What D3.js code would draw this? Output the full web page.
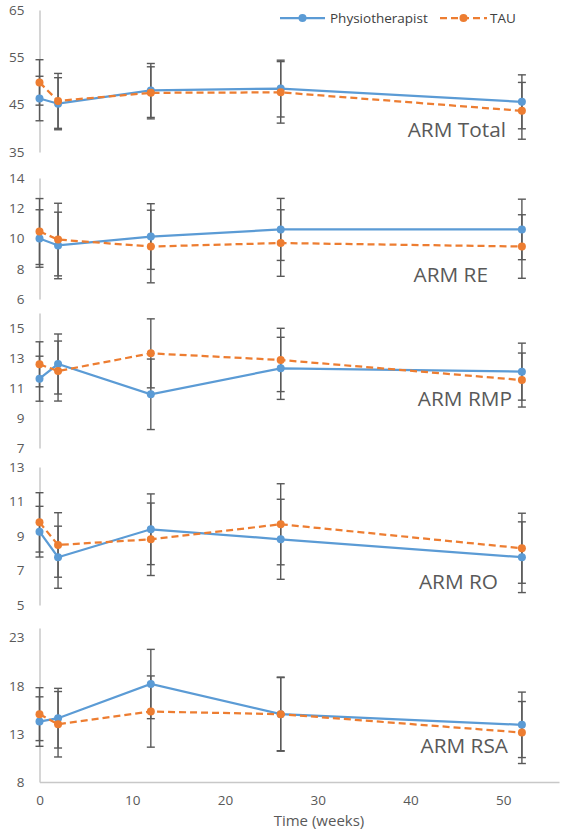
<!DOCTYPE html>
<html><head><meta charset="utf-8">
<script src="https://cdn.jsdelivr.net/npm/d3@7"></script>
<style>body{margin:0;background:#fff}svg{display:block}</style>
</head><body>
<svg id="chart" width="566" height="830"></svg>
<script>
// ---- data ----
const weeks = [0, 2, 12, 26, 52];
const seriesNames = ["Physiotherapist", "TAU"];
const panelNames = ["ARM Total", "ARM RE", "ARM RMP", "ARM RO", "ARM RSA"];
const physioMean = [
  [46.3, 45.2, 48.0, 48.4, 45.6],
  [10.0, 9.54, 10.13, 10.6, 10.6],
  [11.62, 12.6, 10.58, 12.31, 12.09],
  [9.25, 7.77, 9.39, 8.81, 7.77],
  [14.28, 14.63, 18.18, 15.05, 13.94]
];
const physioSD = [
  [4.7, 5.5, 5.7, 6.0, 5.7],
  [1.9, 2.2, 2.17, 2.05, 2.0],
  [1.5, 2.0, 2.35, 2.07, 1.9],
  [1.47, 1.8, 2.05, 2.32, 2.05],
  [2.57, 3.1, 3.6, 3.8, 3.4]
];
const tauMean = [
  [49.7, 45.8, 47.5, 47.6, 43.7],
  [10.46, 9.93, 9.47, 9.7, 9.47],
  [12.58, 12.13, 13.31, 12.87, 11.53],
  [9.79, 8.48, 8.81, 9.68, 8.29],
  [15.05, 14.0, 15.32, 15.05, 13.14]
];
const tauSD = [
  [4.8, 5.8, 5.5, 6.5, 6.0],
  [2.18, 2.4, 2.4, 2.2, 2.1],
  [1.5, 2.0, 2.3, 2.11, 1.8],
  [1.72, 1.87, 2.1, 2.35, 2.03],
  [2.75, 3.4, 3.7, 3.85, 3.22]
];
const yDomains = [[35, 65], [6, 14], [7, 16], [5, 13], [8, 24]];
const yTicks = [[35, 45, 55, 65], [6, 8, 10, 12, 14], [7, 9, 11, 13, 15], [5, 7, 9, 11, 13], [8, 13, 18, 23]];
const xTicks = [0, 10, 20, 30, 40, 50];
const xDomain = [0, 56];
const xTitle = "Time (weeks)";

// ---- layout ----
const panelRanges = [[152, 10], [299, 178], [448, 313], [605, 467], [782, 628]];
const labelPos = [[506, 137], [488, 282], [512, 406], [498, 589], [508, 753]];
const colors = ["#5b9bd5", "#ed7d31"];
const font = "'Open Sans', sans-serif";
const svg = d3.select("#chart");
const x = d3.scaleLinear().domain(xDomain).range([39.5, 559]);

panelNames.forEach((name, p) => {
  const y = d3.scaleLinear().domain(yDomains[p]).range(panelRanges[p]);
  const g = svg.append("g");
  const ya = g.append("g").attr("transform", "translate(39.5,0)")
    .call(d3.axisLeft(y).tickValues(yTicks[p]).tickSize(0).tickPadding(15).tickFormat(d3.format("d")));
  ya.select(".domain").attr("stroke", "#c8c8c8").attr("stroke-width", 1.5);
  ya.selectAll("text").attr("fill", "#595959").style("font-family", font).style("font-size", "13.5px");

  const sets = [[physioMean[p], physioSD[p]], [tauMean[p], tauSD[p]]];
  sets.forEach(([m, sd], s) => {
    const pts = weeks.map((w, i) => ({w, m: m[i], sd: sd[i]}));
    const eb = g.append("g").attr("stroke", "#595959").attr("stroke-width", 1.4);
    pts.forEach(d => {
      const xx = x(d.w), y1 = y(d.m + d.sd), y2 = y(d.m - d.sd);
      eb.append("line").attr("x1", xx).attr("x2", xx).attr("y1", y1).attr("y2", y2);
      eb.append("line").attr("x1", xx - 4).attr("x2", xx + 4).attr("y1", y1).attr("y2", y1);
      eb.append("line").attr("x1", xx - 4).attr("x2", xx + 4).attr("y1", y2).attr("y2", y2);
    });
  });
  sets.forEach(([m, sd], s) => {
    const pts = weeks.map((w, i) => ({w, m: m[i]}));
    g.append("path").datum(pts)
      .attr("d", d3.line().x(d => x(d.w)).y(d => y(d.m)))
      .attr("fill", "none").attr("stroke", colors[s]).attr("stroke-width", 2.25)
      .attr("stroke-dasharray", s === 1 ? "7,4" : null);
    g.selectAll(null).data(pts).enter().append("circle")
      .attr("cx", d => x(d.w)).attr("cy", d => y(d.m)).attr("r", 4)
      .attr("fill", colors[s]);
  });
  g.append("text").attr("x", labelPos[p][0]).attr("y", labelPos[p][1])
    .attr("text-anchor", "end").attr("fill", "#595959")
    .style("font-family", font).style("font-size", "20.8px").text(name);

  if (p === panelNames.length - 1) {
    const xa = g.append("g").attr("transform", `translate(0,${panelRanges[p][0]})`)
      .call(d3.axisBottom(x).tickValues(xTicks).tickSize(0).tickPadding(13));
    xa.select(".domain").attr("stroke", "#c8c8c8").attr("stroke-width", 1.5);
    xa.selectAll("text").attr("fill", "#595959").style("font-family", font).style("font-size", "13.5px");
  }
});

svg.append("text").attr("x", 319).attr("y", 826).attr("text-anchor", "middle")
  .attr("fill", "#595959").style("font-family", font).style("font-size", "15px").text(xTitle);

// legend
const leg = svg.append("g");
const legItems = [{x1: 280, x2: 325, tx: 330}, {x1: 440, x2: 487, tx: 490}];
seriesNames.forEach((n, i) => {
  const it = legItems[i];
  leg.append("line").attr("x1", it.x1).attr("x2", it.x2).attr("y1", 18).attr("y2", 18)
    .attr("stroke", colors[i]).attr("stroke-width", 2.25).attr("stroke-dasharray", i === 1 ? "7,4" : null);
  leg.append("circle").attr("cx", (it.x1 + it.x2) / 2).attr("cy", 18).attr("r", 4).attr("fill", colors[i]);
  leg.append("text").attr("x", it.tx).attr("y", 23).attr("fill", "#404040")
    .style("font-family", font).style("font-size", "13.5px").text(n);
});
</script>
</body></html>
